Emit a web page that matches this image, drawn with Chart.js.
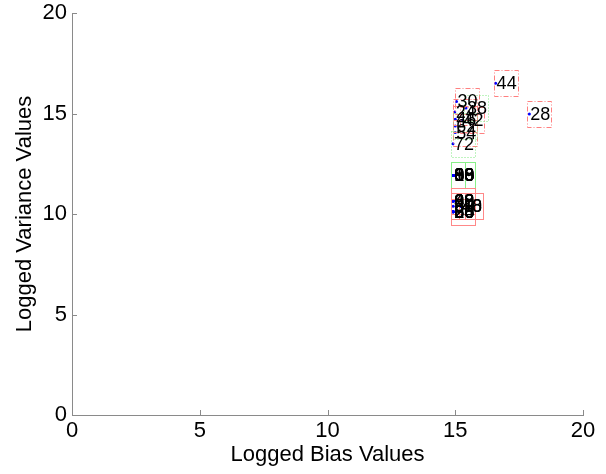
<!DOCTYPE html>
<html>
<head>
<meta charset="utf-8">
<script src="https://cdn.jsdelivr.net/npm/chart.js@4"></script>
<style>
  body { margin: 0; background: #fff; }
  #wrap { width: 606px; height: 474px; }
</style>
</head>
<body>
<div id="wrap"><canvas id="myChart"></canvas></div>
<script>
// labelled points, one group per box style
const dashRedLabels = ["44", "28", "30", "24", "46", "42", "54"];
const dashRedBias = [16.58, 17.90, 15.05, 14.98, 15.00, 15.28, 15.00];
const dashRedVar = [16.50, 14.98, 15.60, 15.08, 14.72, 14.66, 14.05];

const dotGreenLabels = ["38", "62", "72"];
const dotGreenBias = [15.42, 15.00, 14.91];
const dotGreenVar = [15.27, 14.38, 13.50];

const solidGreenLabels = ["18", "86", "88", "80", "8", "68", "60", "16", "98", "00", "96", "09"];
const solidGreenBias = [14.92, 14.92, 14.92, 14.92, 14.92, 14.92, 14.92, 14.92, 14.92, 14.92, 14.92, 14.92];
const solidGreenVar = [11.92, 11.92, 11.92, 11.92, 11.92, 11.92, 11.92, 11.92, 11.92, 11.92, 11.92, 11.92];

const solidRedLabels = ["20", "26", "66", "86", "88", "60", "94", "28", "68", "80", "08", "42", "99", "48", "40", "46", "6"];
const solidRedBias = [14.92, 14.92, 14.92, 14.92, 14.92, 14.92, 14.92, 14.92, 14.92, 14.92, 14.92, 14.92, 14.92, 15.22, 15.22, 15.22, 14.92];
const solidRedVar = [10.11, 10.11, 10.11, 10.11, 10.11, 10.11, 10.11, 10.65, 10.65, 10.65, 10.65, 10.65, 10.65, 10.38, 10.38, 10.38, 10.38];

const tickValues = [0, 5, 10, 15, 20];

const FONT = "'Liberation Sans', Arial, sans-serif";

function pts(xs, ys) {
  return xs.map((x, i) => ({ x: x, y: ys[i] }));
}

function group(labels, xs, ys, boxColor, boxDash) {
  return {
    data: pts(xs, ys),
    pointLabels: labels,
    boxColor: boxColor,
    boxDash: boxDash,
    showLine: false,
    pointRadius: 1.5,
    pointBackgroundColor: "#0000ff",
    pointBorderWidth: 0,
  };
}

// text label with a box round it, to the right of each point
const textBoxes = {
  id: "textBoxes",
  afterDatasetsDraw(chart) {
    const ctx = chart.ctx;
    ctx.save();
    ctx.font = "18px " + FONT;
    ctx.textBaseline = "middle";
    ctx.textAlign = "left";
    chart.data.datasets.forEach((ds, di) => {
      const meta = chart.getDatasetMeta(di);
      meta.data.forEach((pt, i) => {
        const w = ctx.measureText(ds.pointLabels[i]).width;
        ctx.strokeStyle = ds.boxColor;
        ctx.lineWidth = 1;
        ctx.setLineDash(ds.boxDash);
        ctx.strokeRect(Math.round(pt.x - 2) + 0.5, Math.round(pt.y - 13) + 0.5,
          Math.round(w + 4), 26);
        ctx.setLineDash([]);
      });
    });
    ctx.fillStyle = "#000";
    chart.data.datasets.forEach((ds, di) => {
      const meta = chart.getDatasetMeta(di);
      meta.data.forEach((pt, i) => {
        ctx.fillText(ds.pointLabels[i], pt.x + 1, pt.y + 1);
      });
    });
    ctx.restore();
  },
};

// inward tick marks like the old plotting style
const innerTicks = {
  id: "innerTicks",
  afterDraw(chart) {
    const ctx = chart.ctx;
    const xs = chart.scales.x, ys = chart.scales.y;
    const a = chart.chartArea;
    ctx.save();
    ctx.strokeStyle = "#8a8a8a";
    ctx.lineWidth = 1;
    ctx.beginPath();
    tickValues.forEach(v => {
      const px = Math.round(xs.getPixelForValue(v)) + 0.5;
      ctx.moveTo(px, a.bottom);
      ctx.lineTo(px, a.bottom - 5);
      const py = Math.round(ys.getPixelForValue(v)) + 0.5;
      ctx.moveTo(a.left, py);
      ctx.lineTo(a.left + 5, py);
    });
    ctx.stroke();
    ctx.restore();
  },
};

const config = {
  type: "scatter",
  data: {
    datasets: [
      group(dashRedLabels, dashRedBias, dashRedVar, "#ff8080", [5, 2, 1, 2]),
      group(dotGreenLabels, dotGreenBias, dotGreenVar, "#80e880", [1, 2]),
      group(solidGreenLabels, solidGreenBias, solidGreenVar, "#88f088", []),
      group(solidRedLabels, solidRedBias, solidRedVar, "#ff8888", []),
    ],
  },
  options: {
    responsive: true,
    maintainAspectRatio: false,
    animation: false,
    events: [],
    layout: { padding: { top: 13, right: 23, left: 0, bottom: 0 } },
    plugins: { legend: { display: false }, tooltip: { enabled: false } },
    scales: {
      x: {
        type: "linear",
        min: 0,
        max: 20,
        afterBuildTicks: s => { s.ticks = tickValues.map(v => ({ value: v })); },
        afterFit: s => { s.height = 59; s.paddingLeft = 0; s.paddingRight = 0; },
        grid: { display: false, drawTicks: false },
        border: { display: true, color: "#8a8a8a" },
        ticks: { color: "#000", font: { family: FONT, size: 22 }, padding: 3, maxRotation: 0 },
        title: {
          display: true,
          text: "Logged Bias Values",
          color: "#000",
          font: { family: FONT, size: 22 },
          padding: { top: 0, bottom: 6 },
        },
      },
      y: {
        type: "linear",
        min: 0,
        max: 20,
        afterBuildTicks: s => { s.ticks = tickValues.map(v => ({ value: v })); },
        afterFit: s => { s.width = 72; s.paddingTop = 0; s.paddingBottom = 0; },
        grid: { display: false, drawTicks: false },
        border: { display: true, color: "#8a8a8a" },
        ticks: { color: "#000", font: { family: FONT, size: 22 }, padding: 5 },
        title: {
          display: true,
          text: "Logged Variance Values",
          color: "#000",
          font: { family: FONT, size: 22 },
          padding: { top: 12, bottom: 0 },
        },
      },
    },
  },
  plugins: [textBoxes, innerTicks],
};

var myChart = new Chart(document.getElementById("myChart"), config);
</script>
</body>
</html>
